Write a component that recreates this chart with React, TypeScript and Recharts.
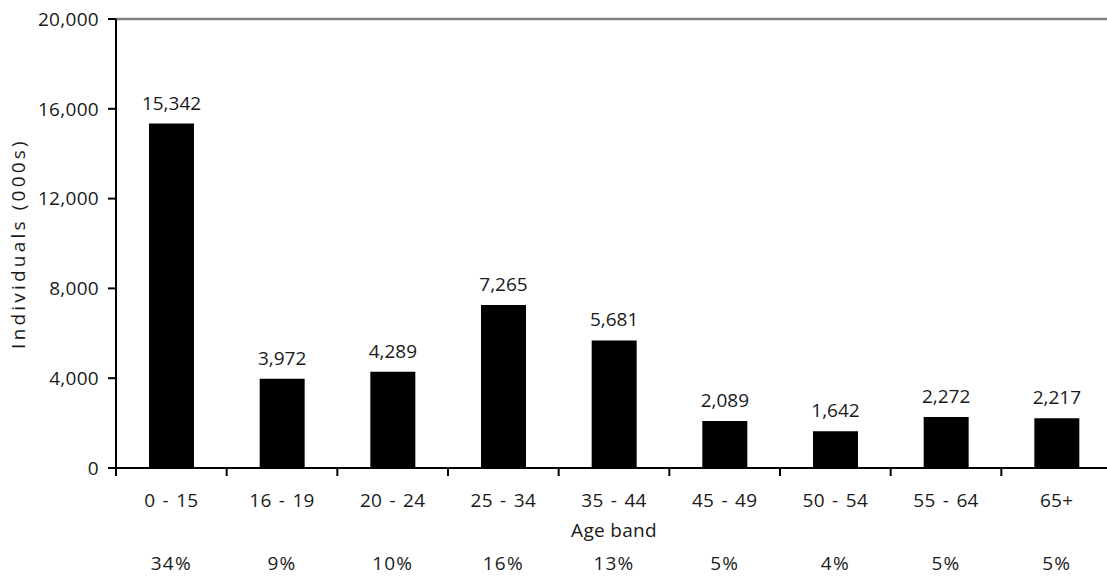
import React from 'react';
import { BarChart, Bar, XAxis, YAxis, ReferenceLine, LabelList } from 'recharts';

// Population by age band (thousands) and share of total
const ageBands = ['0 - 15', '16 - 19', '20 - 24', '25 - 34', '35 - 44', '45 - 49', '50 - 54', '55 - 64', '65+'];
const individuals = [15342, 3972, 4289, 7265, 5681, 2089, 1642, 2272, 2217];
const shares = ['34%', '9%', '10%', '16%', '13%', '5%', '4%', '5%', '5%'];
const yTicks = [0, 4000, 8000, 12000, 16000, 20000];

// Bars sit at band centres on a numeric axis so tick marks can fall between bands
const data = ageBands.map((band, i) => ({
  pos: i + 0.5,
  band,
  value: individuals[i],
  share: shares[i],
}));

const bandTicks: number[] = [];
for (let i = 0; i <= ageBands.length; i++) {
  bandTicks.push(i);
  if (i < ageBands.length) bandTicks.push(i + 0.5);
}

const PLOT_TOP = 19;
const PLOT_HEIGHT = 449;

const FONT = '"Open Sans", "Noto Sans", sans-serif';
const FS = 19;
const TEXT = '#1a1a1a';
const fmt = (v: number) => v.toLocaleString('en-US');

const BandTick = (props: any) => {
  const { x, y, payload } = props;
  const v = payload.value as number;
  if (Number.isInteger(v)) {
    return <line x1={x} y1={y} x2={x} y2={y + 8} stroke="#000" strokeWidth={2} />;
  }
  const i = Math.floor(v);
  return (
    <g>
      <text x={x} y={y + 39} textAnchor="middle" fill={TEXT} fontFamily={FONT} fontSize={FS}
        style={{ letterSpacing: '0.3px', wordSpacing: '2px' }}>
        {ageBands[i]}
      </text>
      <text x={x} y={y + 102} textAnchor="middle" fill={TEXT} fontFamily={FONT} fontSize={FS}
        style={{ letterSpacing: '1.2px' }}>
        {shares[i]}
      </text>
    </g>
  );
};

export default function App() {
  return (
    <div style={{ position: 'fixed', left: 0, top: 0, width: 1107, height: 577, overflow: 'hidden', background: '#fff' }}>
      <BarChart
        width={1112}
        height={577}
        data={data}
        margin={{ top: PLOT_TOP, right: 0, bottom: 0, left: 0 }}
      >
        <XAxis
          dataKey="pos"
          type="number"
          domain={[0, ageBands.length]}
          ticks={bandTicks}
          interval={0}
          height={577 - PLOT_TOP - PLOT_HEIGHT}
          tickSize={0}
          tickMargin={0}
          tickLine={false}
          axisLine={{ stroke: '#000', strokeWidth: 2 }}
          tick={<BandTick />}
          label={{
            content: (p: any) => (
              <text x={p.viewBox.x + p.viewBox.width / 2} y={PLOT_TOP + PLOT_HEIGHT + 69} textAnchor="middle" fill={TEXT}
                fontFamily={FONT} fontSize={FS} style={{ letterSpacing: '0.3px' }}>
                Age band
              </text>
            ),
          }}
        />
        <YAxis
          type="number"
          domain={[0, 20000]}
          ticks={yTicks}
          width={116}
          tickSize={8}
          tickMargin={9}
          tickLine={{ stroke: '#000', strokeWidth: 2 }}
          axisLine={{ stroke: '#000', strokeWidth: 2 }}
          tickFormatter={fmt}
          tick={{ fill: TEXT, fontFamily: FONT, fontSize: FS, style: { letterSpacing: '0.3px' } }}
          label={{
            content: () => {
              const cx = 25;
              const cy = PLOT_TOP + PLOT_HEIGHT / 2;
              return (
                <text x={cx} y={cy} transform={`rotate(-90, ${cx}, ${cy})`} textAnchor="middle"
                  fill={TEXT} fontFamily={FONT} fontSize={FS} style={{ letterSpacing: '3.2px' }}>
                  Individuals (000s)
                </text>
              );
            },
          }}
        />
        <ReferenceLine y={20000} stroke="#7f7f7f" strokeWidth={2.5} />
        <Bar dataKey="value" fill="#000" barSize={45} isAnimationActive={false}>
          <LabelList
            dataKey="value"
            position="top"
            offset={14}
            formatter={(v: any) => fmt(Number(v))}
            style={{ fill: TEXT, fontFamily: FONT, fontSize: FS }}
          />
        </Bar>
      </BarChart>
    </div>
  );
}
